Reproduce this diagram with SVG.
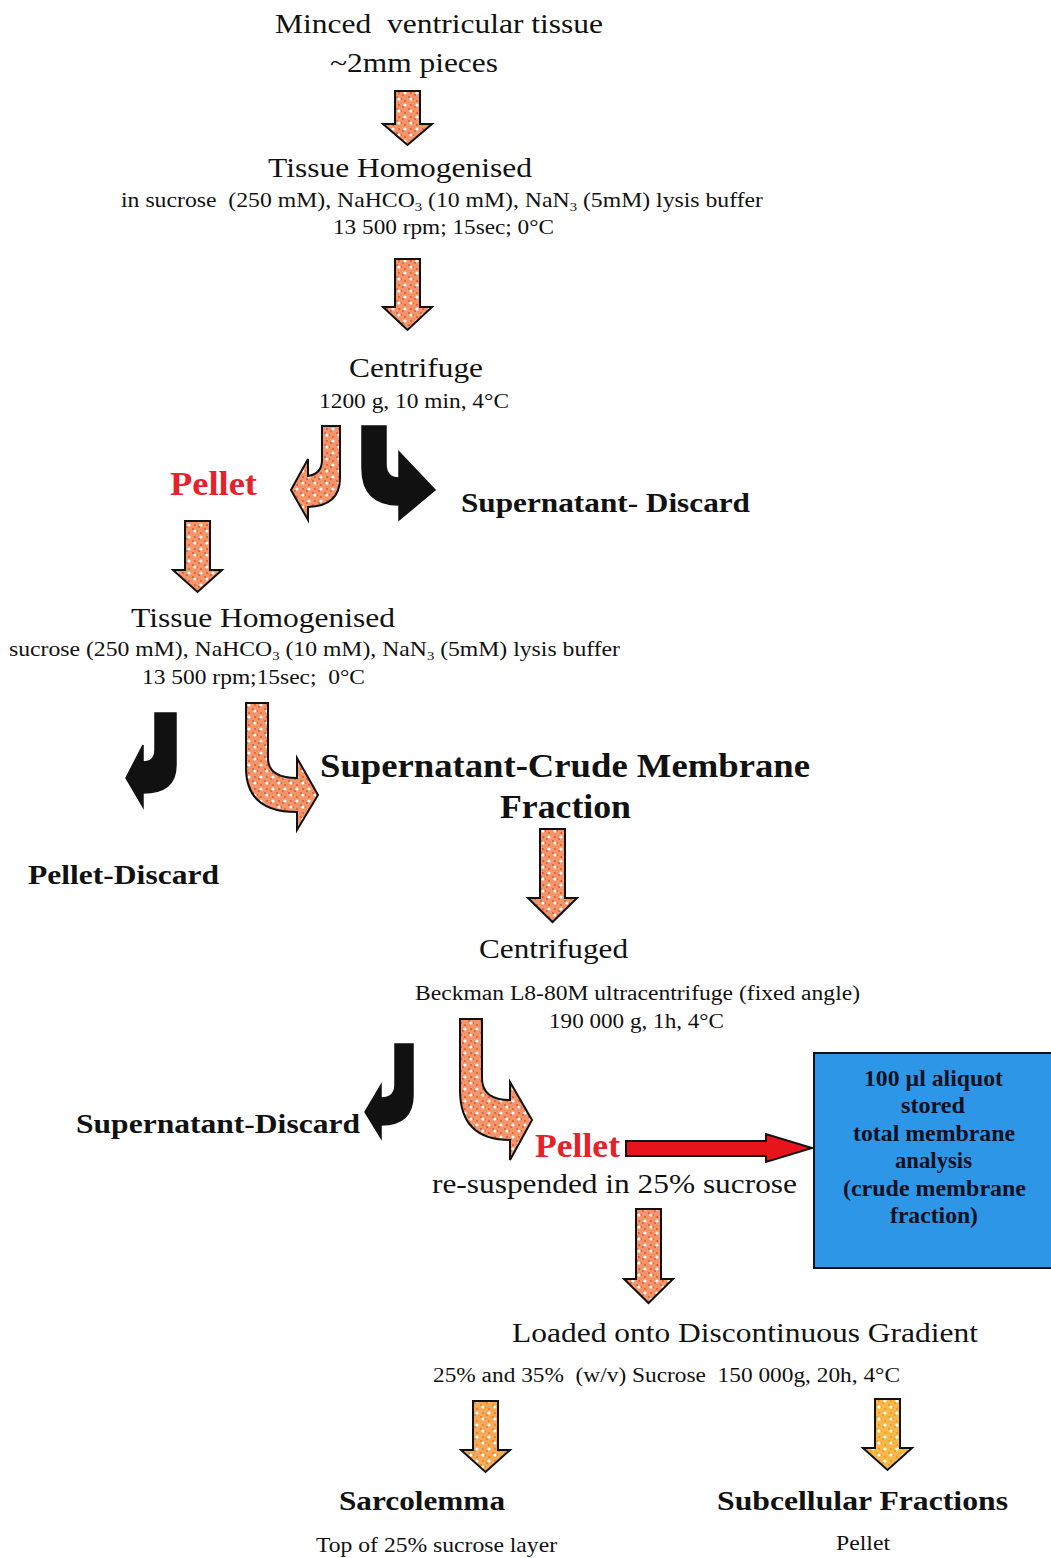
<svg xmlns="http://www.w3.org/2000/svg" width="1051" height="1558" viewBox="0 0 1051 1558">
  <defs>
    <!-- salmon dotted fill used by the process arrows -->
    <pattern id="dotSalmon" width="12" height="12" patternUnits="userSpaceOnUse">
      <rect width="12" height="12" fill="#f3956a"/>
      <rect x="0" y="0" width="2" height="2" fill="#e8663a"/>
      <rect x="4" y="2" width="2" height="2" fill="#e8663a"/>
      <rect x="8" y="4" width="2" height="2" fill="#e8663a"/>
      <rect x="2" y="8" width="2" height="2" fill="#e8663a"/>
      <rect x="6" y="10" width="2" height="2" fill="#e8663a"/>
      <circle cx="3" cy="3" r="1.6" fill="#ffffff"/>
      <circle cx="9" cy="9" r="1.6" fill="#ffffff"/>
    </pattern>
    <!-- warmer orange variant for the gradient outputs -->
    <pattern id="dotOrange" width="12" height="12" patternUnits="userSpaceOnUse">
      <rect width="12" height="12" fill="#f5a858"/>
      <rect x="0" y="0" width="2" height="2" fill="#ea8a30"/>
      <rect x="4" y="2" width="2" height="2" fill="#ea8a30"/>
      <rect x="8" y="4" width="2" height="2" fill="#ea8a30"/>
      <rect x="2" y="8" width="2" height="2" fill="#ea8a30"/>
      <rect x="6" y="10" width="2" height="2" fill="#ea8a30"/>
      <circle cx="3" cy="3" r="1.6" fill="#ffffff"/>
      <circle cx="9" cy="9" r="1.6" fill="#ffffff"/>
    </pattern>
    <pattern id="dotYellow" width="12" height="12" patternUnits="userSpaceOnUse">
      <rect width="12" height="12" fill="#f7b84a"/>
      <rect x="0" y="0" width="2" height="2" fill="#eea028"/>
      <rect x="4" y="2" width="2" height="2" fill="#eea028"/>
      <rect x="8" y="4" width="2" height="2" fill="#eea028"/>
      <rect x="2" y="8" width="2" height="2" fill="#eea028"/>
      <rect x="6" y="10" width="2" height="2" fill="#eea028"/>
      <circle cx="3" cy="3" r="1.6" fill="#ffffff"/>
      <circle cx="9" cy="9" r="1.6" fill="#ffffff"/>
    </pattern>
    <style>
      text { white-space: pre; }
      .t { font-family: "Liberation Serif", "Times New Roman", serif; fill: #111; }
      .h { font-size: 28px; }
      .s { font-size: 21px; }
      .b { font-weight: bold; }
      .red { fill: #e8202a; font-weight: bold; font-size: 33px; }
      .arrS { fill: url(#dotSalmon); stroke: #111; stroke-width: 2; stroke-linejoin: miter; }
      .arrO { fill: url(#dotOrange); stroke: #111; stroke-width: 2; }
      .arrY { fill: url(#dotYellow); stroke: #111; stroke-width: 2; }
      .arrK { fill: #111; stroke: #111; stroke-width: 1.5; }
      .box { fill: #2d96e6; stroke: #111; stroke-width: 2; }
      .boxt { font-family: "Liberation Serif", "Times New Roman", serif; font-weight: bold; font-size: 23px; fill: #0d1020; }
    </style>
  </defs>

  <!-- step texts -->
  <g id="minced">
    <text class="t h" x="275" y="33" textLength="328" lengthAdjust="spacingAndGlyphs">Minced  ventricular tissue</text>
    <text class="t h" x="330" y="72" textLength="168" lengthAdjust="spacingAndGlyphs">~2mm pieces</text>
  </g>
  <g id="homogenised1">
    <text class="t h" x="268" y="177" textLength="264" lengthAdjust="spacingAndGlyphs">Tissue Homogenised</text>
    <text class="t s" x="121" y="207" textLength="642" lengthAdjust="spacingAndGlyphs">in sucrose  (250 mM), NaHCO<tspan font-size="13" dy="4">3</tspan><tspan dy="-4"> (10 mM), NaN</tspan><tspan font-size="13" dy="4">3</tspan><tspan dy="-4"> (5mM) lysis buffer</tspan></text>
    <text class="t s" x="333" y="234" textLength="221" lengthAdjust="spacingAndGlyphs">13 500 rpm; 15sec; 0°C</text>
  </g>
  <g id="centrifuge1">
    <text class="t h" x="349" y="377" textLength="134" lengthAdjust="spacingAndGlyphs">Centrifuge</text>
    <text class="t s" x="319" y="408" textLength="190" lengthAdjust="spacingAndGlyphs">1200 g, 10 min, 4°C</text>
  </g>
  <g id="pellet1">
    <text class="t red" x="170" y="495" textLength="87" lengthAdjust="spacingAndGlyphs">Pellet</text>
  </g>
  <g id="supernatant1">
    <text class="t h b" x="461" y="512" textLength="289" lengthAdjust="spacingAndGlyphs">Supernatant- Discard</text>
  </g>
  <g id="homogenised2">
    <text class="t h" x="131" y="627" textLength="264" lengthAdjust="spacingAndGlyphs">Tissue Homogenised</text>
    <text class="t s" x="9" y="656" textLength="611" lengthAdjust="spacingAndGlyphs">sucrose (250 mM), NaHCO<tspan font-size="13" dy="4">3</tspan><tspan dy="-4"> (10 mM), NaN</tspan><tspan font-size="13" dy="4">3</tspan><tspan dy="-4"> (5mM) lysis buffer</tspan></text>
    <text class="t s" x="142" y="684" textLength="223" lengthAdjust="spacingAndGlyphs">13 500 rpm;15sec;  0°C</text>
  </g>
  <g id="crudeFraction">
    <text class="t b" font-size="33" x="320" y="777" textLength="490" lengthAdjust="spacingAndGlyphs">Supernatant-Crude Membrane</text>
    <text class="t b" font-size="33" x="500" y="818" textLength="131" lengthAdjust="spacingAndGlyphs">Fraction</text>
  </g>
  <g id="pelletDiscard">
    <text class="t h b" x="28" y="884" textLength="191" lengthAdjust="spacingAndGlyphs">Pellet-Discard</text>
  </g>
  <g id="centrifuged">
    <text class="t h" x="479" y="958" textLength="149" lengthAdjust="spacingAndGlyphs">Centrifuged</text>
    <text class="t" font-size="20" x="415" y="1000" textLength="445" lengthAdjust="spacingAndGlyphs">Beckman L8-80M ultracentrifuge (fixed angle)</text>
    <text class="t" font-size="20" x="549" y="1028" textLength="175" lengthAdjust="spacingAndGlyphs">190 000 g, 1h, 4°C</text>
  </g>
  <g id="supernatant2">
    <text class="t h b" x="76" y="1133" textLength="284" lengthAdjust="spacingAndGlyphs">Supernatant-Discard</text>
  </g>
  <g id="pellet2">
    <text class="t red" x="535" y="1157" textLength="85" lengthAdjust="spacingAndGlyphs">Pellet</text>
    <text class="t h" x="432" y="1193" textLength="365" lengthAdjust="spacingAndGlyphs">re-suspended in 25% sucrose</text>
  </g>
  <g id="aliquot">
    <rect class="box" x="814" y="1053" width="240" height="215"/>
    <text class="boxt" x="864" y="1086" textLength="139" lengthAdjust="spacingAndGlyphs">100 µl aliquot</text>
    <text class="boxt" x="901" y="1113" textLength="64" lengthAdjust="spacingAndGlyphs">stored</text>
    <text class="boxt" x="853" y="1141" textLength="162" lengthAdjust="spacingAndGlyphs">total membrane</text>
    <text class="boxt" x="895" y="1168" textLength="77" lengthAdjust="spacingAndGlyphs">analysis</text>
    <text class="boxt" x="843" y="1196" textLength="183" lengthAdjust="spacingAndGlyphs">(crude membrane</text>
    <text class="boxt" x="890" y="1223" textLength="88" lengthAdjust="spacingAndGlyphs">fraction)</text>
  </g>
  <g id="gradient">
    <text class="t h" x="512" y="1342" textLength="466" lengthAdjust="spacingAndGlyphs">Loaded onto Discontinuous Gradient</text>
    <text class="t" font-size="20" x="433" y="1382" textLength="467" lengthAdjust="spacingAndGlyphs">25% and 35%  (w/v) Sucrose  150 000g, 20h, 4°C</text>
  </g>
  <g id="sarcolemma">
    <text class="t h b" x="339" y="1510" textLength="166" lengthAdjust="spacingAndGlyphs">Sarcolemma</text>
    <text class="t s" x="316" y="1552" textLength="241" lengthAdjust="spacingAndGlyphs">Top of 25% sucrose layer</text>
  </g>
  <g id="subcellular">
    <text class="t h b" x="717" y="1510" textLength="291" lengthAdjust="spacingAndGlyphs">Subcellular Fractions</text>
    <text class="t s" x="836" y="1550" textLength="54" lengthAdjust="spacingAndGlyphs">Pellet</text>
  </g>

  <!-- connectors -->
  <g id="connectors">
    <!-- straight downward arrows -->
    <path class="arrS" d="M395,91 L420,91 L420,124 L432,124 L407.5,145 L383,124 L395,124 Z"/>
    <path class="arrS" d="M395,259 L420,259 L420,307 L432,307 L407.5,330 L383,307 L395,307 Z"/>
    <path class="arrS" d="M185,521 L210,521 L210,570 L222,570 L197.5,592 L173,570 L185,570 Z"/>
    <path class="arrS" d="M540,829 L565,829 L565,898 L577,898 L552.5,922 L528,898 L540,898 Z"/>
    <path class="arrS" d="M636,1209 L661,1209 L661,1279 L673,1279 L648.5,1303 L624,1279 L636,1279 Z"/>
    <path class="arrO" d="M473,1401 L498,1401 L498,1450 L510,1450 L485.5,1472 L461,1450 L473,1450 Z"/>
    <path class="arrY" d="M875,1399 L900,1399 L900,1448 L912,1448 L887.5,1470 L863,1448 L875,1448 Z"/>

    <!-- curved arrows after first centrifuge -->
    <path class="arrS" d="M322,426 L340,426 L340,478 Q340,506 308,507 L308,520 L291,490 L308,459 L308,476 Q322,474 322,460 Z"/>
    <path class="arrK" d="M362,426 L386,426 L386,464 Q386,478 399,478 L399,452 L435,490 L399,520 L399,505 Q362,505 362,468 Z"/>

    <!-- curved arrows after second homogenisation -->
    <path class="arrK" d="M155,713 L176,713 L176,765 Q176,793 143,793 L143,807 L126,778 L143,745 L143,762 Q155,762 155,750 Z"/>
    <path class="arrS" d="M246,703 L268,703 L268,758 Q268,778 297,778 L297,758 L318,795 L297,830 L297,812 Q246,812 246,768 Z"/>

    <!-- curved arrows after ultracentrifugation -->
    <path class="arrK" d="M395,1044 L413,1044 L413,1095 Q413,1125 381,1125 L381,1138 L365,1112 L381,1085 L381,1098 Q395,1098 395,1085 Z"/>
    <path class="arrS" d="M460,1019 L482,1019 L482,1078 Q482,1100 510,1100 L510,1082 L532,1120 L510,1160 L510,1140 Q460,1140 460,1090 Z"/>

    <!-- pellet to stored aliquot -->
    <path d="M626,1141 L766,1141 L766,1134 L812,1148 L766,1162 L766,1156 L626,1156 Z" fill="#e8141c" stroke="#111" stroke-width="2"/>
  </g>
</svg>
